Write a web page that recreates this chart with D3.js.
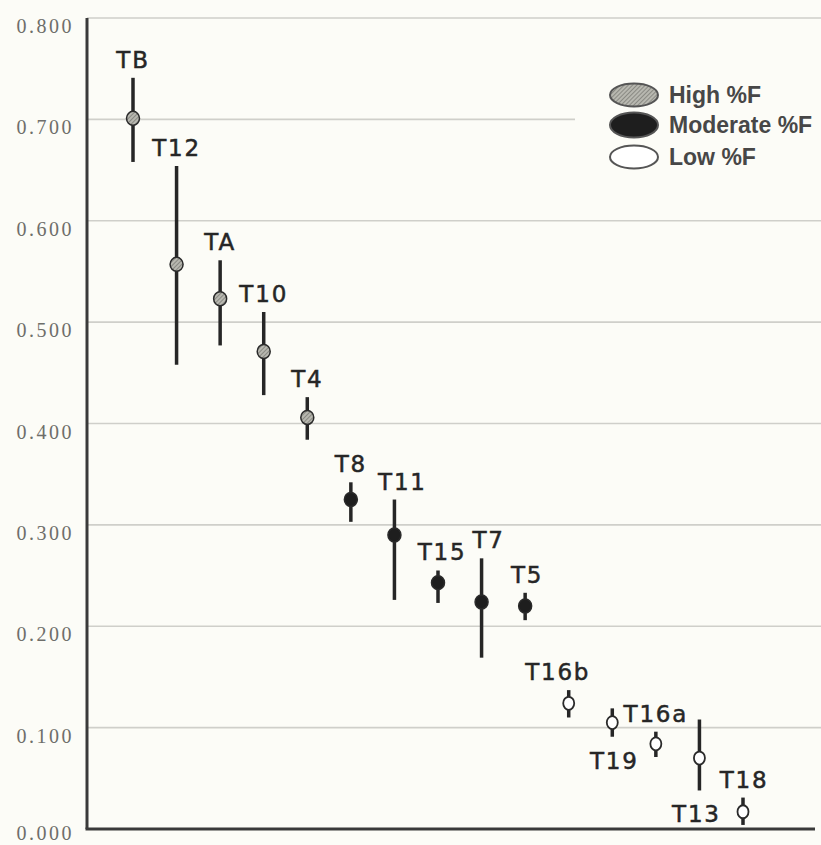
<!DOCTYPE html>
<html>
<head>
<meta charset="utf-8">
<script src="https://cdn.jsdelivr.net/npm/d3@7"></script>
<style>
  html, body { margin: 0; padding: 0; background: #fcfcf7; }
  svg { display: block; }
</style>
</head>
<body>
<div id="chart"></div>
<script>
// ---------- data ----------
const samples = ["TB","T12","TA","T10","T4","T8","T11","T15","T7","T5","T16b","T19","T16a","T13","T18"];
const means   = [0.701,0.557,0.523,0.471,0.406,0.325,0.290,0.243,0.224,0.220,0.124,0.105,0.084,0.070,0.017];
const upper   = [0.741,0.654,0.561,0.510,0.426,0.342,0.325,0.255,0.267,0.233,0.137,0.119,0.096,0.108,0.031];
const lower   = [0.658,0.458,0.477,0.428,0.384,0.303,0.226,0.223,0.169,0.206,0.110,0.091,0.071,0.038,0.004];
const groups  = ["High","High","High","High","High","Moderate","Moderate","Moderate","Moderate","Moderate","Low","Low","Low","Low","Low"];
const labelSide = ["above","above","above","above","above","above","above","above","above","above","above","below","above","below","above"];
const labelShift = [0,0,0,0,0,0,8,4,7,2,-11,2,0,-3,1];
const yTicks = [0.0,0.1,0.2,0.3,0.4,0.5,0.6,0.7,0.8];
const legendKeys = ["High","Moderate","Low"];
const legendLabels = ["High %F","Moderate %F","Low %F"];

// ---------- layout ----------
const W = 821, H = 845;
const axisX = 87, axisBottom = 829, axisTop = 18;

const svg = d3.select("#chart").append("svg")
  .attr("width", W).attr("height", H);

svg.append("rect").attr("width", W).attr("height", H).attr("fill", "#fcfcf7");

const defs = svg.append("defs");
const pat = defs.append("pattern")
  .attr("id", "hatch").attr("patternUnits", "userSpaceOnUse")
  .attr("width", 3).attr("height", 3).attr("patternTransform", "rotate(45)");
pat.append("rect").attr("width", 3).attr("height", 3).attr("fill", "#b8b8b0");
pat.append("line").attr("x1", 0).attr("y1", 0).attr("x2", 0).attr("y2", 3)
  .attr("stroke", "#6a6a64").attr("stroke-width", 1.2);

const y = d3.scaleLinear().domain([0, 0.8]).range([axisBottom, axisTop]);
const x = d3.scalePoint().domain(samples).range([133, 743]);

const fills = { High: "url(#hatch)", Moderate: "#1e1e1e", Low: "#ffffff" };

// gridlines
svg.append("g").selectAll("line").data(yTicks.filter(d => d > 0)).join("line")
  .attr("x1", axisX).attr("x2", d => d === 0.7 ? 575 : W)
  .attr("y1", d => y(d)).attr("y2", d => y(d))
  .attr("stroke", "#cfcfca").attr("stroke-width", 1.6);

// y-axis tick labels
svg.append("g").selectAll("text").data(yTicks).join("text")
  .attr("x", 74).attr("y", d => d === 0 ? y(d) + 11 : y(d) + 15)
  .attr("text-anchor", "end")
  .attr("font-family", "Liberation Serif, Times New Roman, serif")
  .attr("font-size", 20)
  .attr("letter-spacing", 2.5)
  .attr("fill", "#6e6e6a")
  .text(d => d3.format(".3f")(d));

// axes lines
svg.append("line").attr("x1", axisX).attr("x2", axisX)
  .attr("y1", axisTop).attr("y2", axisBottom)
  .attr("stroke", "#3a3a3a").attr("stroke-width", 3);
svg.append("line").attr("x1", axisX - 1.5).attr("x2", 815)
  .attr("y1", axisBottom).attr("y2", axisBottom)
  .attr("stroke", "#3a3a3a").attr("stroke-width", 3);

const data = samples.map((s, i) => ({
  s, m: means[i], hi: upper[i], lo: lower[i], g: groups[i], side: labelSide[i], shift: labelShift[i]
}));

// error bars
svg.append("g").selectAll("line").data(data).join("line")
  .attr("x1", d => x(d.s)).attr("x2", d => x(d.s))
  .attr("y1", d => y(d.hi)).attr("y2", d => y(d.lo))
  .attr("stroke", "#262626").attr("stroke-width", 3.5);

// markers
svg.append("g").selectAll("ellipse").data(data).join("ellipse")
  .attr("cx", d => x(d.s)).attr("cy", d => y(d.m))
  .attr("rx", d => d.g === "Low" ? 5.5 : 6.5)
  .attr("ry", d => d.g === "Low" ? 6.5 : 7)
  .attr("fill", d => fills[d.g])
  .attr("stroke", "#2a2a2a").attr("stroke-width", d => d.g === "Low" ? 1.8 : 1.5);

// point labels
svg.append("g").selectAll("text").data(data).join("text")
  .attr("x", d => x(d.s) + d.shift)
  .attr("y", d => d.side === "above" ? y(d.hi) - 10 : y(d.lo) + 32)
  .attr("text-anchor", "middle")
  .attr("font-family", "DejaVu Sans, Verdana, sans-serif")
  .attr("font-size", 23)
  .attr("letter-spacing", 1.8)
  .attr("fill", "#262626")
  .attr("stroke", "#262626").attr("stroke-width", 0.5)
  .text(d => d.s);

// legend
const legY = [95, 125, 157];
const leg = svg.append("g");
leg.selectAll("ellipse").data(legendKeys).join("ellipse")
  .attr("cx", 634).attr("cy", (d, i) => legY[i])
  .attr("rx", 24).attr("ry", (d, i) => i === 1 ? 12.5 : 11.5)
  .attr("fill", d => fills[d])
  .attr("stroke", "#555").attr("stroke-width", 2);
leg.selectAll("text").data(legendLabels).join("text")
  .attr("x", 669).attr("y", (d, i) => legY[i] + 8)
  .attr("font-family", "Liberation Sans, Arial, sans-serif")
  .attr("font-weight", "bold")
  .attr("font-size", 23)
  .attr("fill", "#474747")
  .text(d => d);
</script>
</body>
</html>
